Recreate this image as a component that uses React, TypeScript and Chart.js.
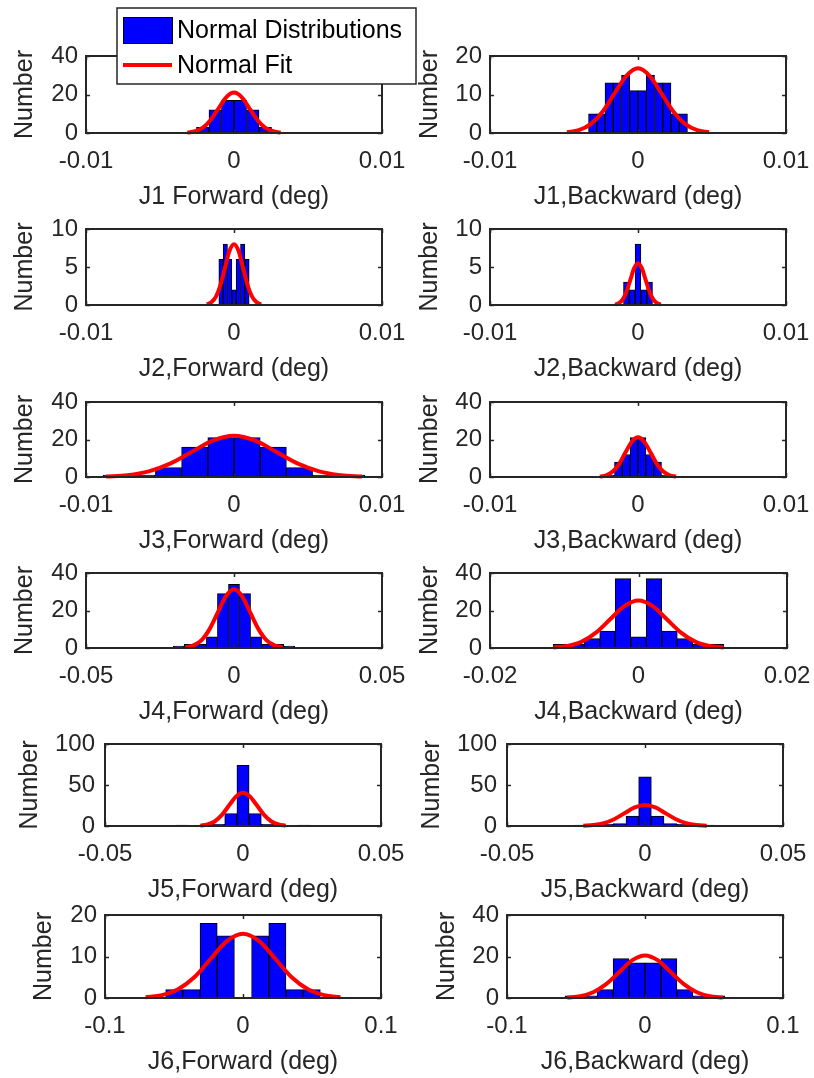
import React, { useEffect, useRef } from "react";
import { Chart, registerables } from "chart.js";

Chart.register(...registerables);

// ---------------- data ----------------
const X_TICKS_001 = [-0.01, 0, 0.01];
const X_LABELS_001 = ["-0.01", "0", "0.01"];
const X_TICKS_002 = [-0.02, 0, 0.02];
const X_LABELS_002 = ["-0.02", "0", "0.02"];
const X_TICKS_005 = [-0.05, 0, 0.05];
const X_LABELS_005 = ["-0.05", "0", "0.05"];
const X_TICKS_01 = [-0.1, 0, 0.1];
const X_LABELS_01 = ["-0.1", "0", "0.1"];

const Y_TICKS_10 = [0, 5, 10];
const Y_LABELS_10 = ["0", "5", "10"];
const Y_TICKS_20 = [0, 10, 20];
const Y_LABELS_20 = ["0", "10", "20"];
const Y_TICKS_40 = [0, 20, 40];
const Y_LABELS_40 = ["0", "20", "40"];
const Y_TICKS_100 = [0, 50, 100];
const Y_LABELS_100 = ["0", "50", "100"];

const AXIS_TITLES = [
  "J1 Forward (deg)", "J1,Backward (deg)",
  "J2,Forward (deg)", "J2,Backward (deg)",
  "J3,Forward (deg)", "J3,Backward (deg)",
  "J4,Forward (deg)", "J4,Backward (deg)",
  "J5,Forward (deg)", "J5,Backward (deg)",
  "J6,Forward (deg)", "J6,Backward (deg)",
];
const LEGEND_LABELS = ["Normal Distributions", "Normal Fit"];

// J1 Forward
const J1F_BIN_X = [-0.002113, -0.001268, -0.000423, 0.000423, 0.001268, 0.002113];
const J1F_COUNTS = [3, 12, 17, 17, 12, 3];
const J1F_FIT_X = [-0.00315, -0.00263, -0.0021, -0.00158, -0.00105, -0.00053, 0, 0.00053, 0.00105, 0.00158, 0.0021, 0.00263, 0.00315];
const J1F_FIT_Y = [0.2, 0.9, 2.8, 6.8, 12.7, 18.5, 21, 18.5, 12.7, 6.8, 2.8, 0.9, 0.2];

// J1 Backward
const J1B_BIN_X = [-0.003064, -0.002507, -0.00195, -0.001393, -0.000836, -0.000279, 0.000279, 0.000836, 0.001393, 0.00195, 0.002507, 0.003064];
const J1B_COUNTS = [5, 5, 13, 13, 15, 11, 11, 15, 13, 13, 5, 5];
const J1B_FIT_X = [-0.0048, -0.004, -0.0032, -0.0024, -0.0016, -0.0008, 0, 0.0008, 0.0016, 0.0024, 0.0032, 0.004, 0.0048];
const J1B_FIT_Y = [0.19, 0.74, 2.3, 5.5, 10.2, 14.8, 16.8, 14.8, 10.2, 5.5, 2.3, 0.74, 0.19];

// J2 Forward
const J2F_BIN_X = [-0.000879, -0.000586, -0.000293, 0, 0.000293, 0.000586, 0.000879];
const J2F_COUNTS = [6, 8, 6, 2, 6, 8, 6];
const J2F_FIT_X = [-0.00183, -0.00153, -0.00122, -0.00092, -0.00061, -0.00031, 0, 0.00031, 0.00061, 0.00092, 0.00122, 0.00153, 0.00183];
const J2F_FIT_Y = [0.09, 0.35, 1.1, 2.6, 4.9, 7.1, 8, 7.1, 4.9, 2.6, 1.1, 0.35, 0.09];

// J2 Backward
const J2B_BIN_X = [-0.000784, -0.000392, 0, 0.000392, 0.000784];
const J2B_COUNTS = [3, 2, 8, 2, 3];
const J2B_FIT_X = [-0.00154, -0.00129, -0.00103, -0.00077, -0.00051, -0.00026, 0, 0.00026, 0.00051, 0.00077, 0.00103, 0.00129, 0.00154];
const J2B_FIT_Y = [0.06, 0.24, 0.74, 1.79, 3.34, 4.85, 5.5, 4.85, 3.34, 1.79, 0.74, 0.24, 0.06];

// J3 Forward
const J3F_BIN_X = [-0.007965, -0.006195, -0.004425, -0.002655, -0.000885, 0.000885, 0.002655, 0.004425, 0.006195, 0.007965];
const J3F_COUNTS = [1, 1, 5, 16, 21, 21, 16, 5, 1, 1];
const J3F_FIT_X = [-0.00864, -0.0072, -0.00576, -0.00432, -0.00288, -0.00144, 0, 0.00144, 0.00288, 0.00432, 0.00576, 0.0072, 0.00864];
const J3F_FIT_Y = [0.24, 0.97, 3.0, 7.1, 13.3, 19.4, 22, 19.4, 13.3, 7.1, 3.0, 0.97, 0.24];

// J3 Backward
const J3B_BIN_X = [-0.001852, -0.001323, -0.000794, -0.000265, 0.000265, 0.000794, 0.001323, 0.001852];
const J3B_COUNTS = [1, 8, 12, 21, 21, 12, 8, 1];
const J3B_FIT_X = [-0.00257, -0.00214, -0.00171, -0.00128, -0.00086, -0.00043, 0, 0.00043, 0.00086, 0.00128, 0.00171, 0.00214, 0.00257];
const J3B_FIT_Y = [0.24, 0.93, 2.9, 6.9, 12.9, 18.7, 21.2, 18.7, 12.9, 6.9, 2.9, 0.93, 0.24];

// J4 Forward
const J4F_BIN_X = [-0.01865, -0.01492, -0.01119, -0.00746, -0.00373, 0, 0.00373, 0.00746, 0.01119, 0.01492, 0.01865];
const J4F_COUNTS = [1, 2, 2, 6, 29, 34, 29, 6, 2, 2, 1];
const J4F_FIT_X = [-0.01641, -0.01368, -0.01094, -0.00821, -0.00547, -0.00274, 0, 0.00274, 0.00547, 0.00821, 0.01094, 0.01368, 0.01641];
const J4F_FIT_Y = [0.35, 1.37, 4.2, 10.2, 19.0, 27.6, 31.3, 27.6, 19.0, 10.2, 4.2, 1.37, 0.35];

// J4 Backward
const J4B_BIN_X = [-0.01045, -0.00836, -0.00627, -0.00418, -0.00209, 0, 0.00209, 0.00418, 0.00627, 0.00836, 0.01045];
const J4B_COUNTS = [2, 2, 5, 9, 37, 6, 37, 9, 5, 2, 2];
const J4B_FIT_X = [-0.01146, -0.00955, -0.00764, -0.00573, -0.00382, -0.00191, 0, 0.00191, 0.00382, 0.00573, 0.00764, 0.00955, 0.01146];
const J4B_FIT_Y = [0.28, 1.11, 3.4, 8.2, 15.3, 22.3, 25.3, 22.3, 15.3, 8.2, 3.4, 1.11, 0.28];

// J5 Forward
const J5F_BIN_X = [-0.0221, -0.01768, -0.01326, -0.00884, -0.00442, 0, 0.00442, 0.00884, 0.01326, 0.01768, 0.0221];
const J5F_COUNTS = [1, 0, 1, 2, 15, 74, 15, 2, 1, 0, 1];
const J5F_FIT_X = [-0.01545, -0.01288, -0.0103, -0.00773, -0.00515, -0.00258, 0, 0.00258, 0.00515, 0.00773, 0.0103, 0.01288, 0.01545];
const J5F_FIT_Y = [0.45, 1.78, 5.5, 13.2, 24.6, 35.7, 40.5, 35.7, 24.6, 13.2, 5.5, 1.78, 0.45];

// J5 Backward
const J5B_BIN_X = [-0.02295, -0.01836, -0.01377, -0.00918, -0.00459, 0, 0.00459, 0.00918, 0.01377, 0.01836, 0.02295];
const J5B_COUNTS = [1, 0, 2, 3, 12, 60, 12, 3, 2, 0, 1];
const J5B_FIT_X = [-0.02235, -0.01863, -0.0149, -0.01118, -0.00745, -0.00373, 0, 0.00373, 0.00745, 0.01118, 0.0149, 0.01863, 0.02235];
const J5B_FIT_Y = [0.28, 1.12, 3.5, 8.3, 15.5, 22.6, 25.6, 22.6, 15.5, 8.3, 3.5, 1.12, 0.28];

// J6 Forward
const J6F_BIN_X = [-0.0498, -0.03735, -0.0249, -0.01245, 0, 0.01245, 0.0249, 0.03735, 0.0498];
const J6F_COUNTS = [2, 2, 18, 15, 0, 15, 18, 2, 2];
const J6F_FIT_X = [-0.07059, -0.05883, -0.04706, -0.0353, -0.02353, -0.01177, 0, 0.01177, 0.02353, 0.0353, 0.04706, 0.05883, 0.07059];
const J6F_FIT_Y = [0.17, 0.68, 2.1, 5.0, 9.4, 13.7, 15.5, 13.7, 9.4, 5.0, 2.1, 0.68, 0.17];

// J6 Backward
const J6B_BIN_X = [-0.05202, -0.04046, -0.0289, -0.01734, -0.00578, 0.00578, 0.01734, 0.0289, 0.04046, 0.05202];
const J6B_COUNTS = [1, 1, 4, 19, 17, 17, 19, 4, 1, 1];
const J6B_FIT_X = [-0.05634, -0.04695, -0.03756, -0.02817, -0.01878, -0.00939, 0, 0.00939, 0.01878, 0.02817, 0.03756, 0.04695, 0.05634];
const J6B_FIT_Y = [0.23, 0.9, 2.8, 6.7, 12.4, 18.1, 20.5, 18.1, 12.4, 6.7, 2.8, 0.9, 0.23];

// ---------------- panel definitions ----------------
type Spec = {
  title: string;
  binX: number[];
  counts: number[];
  fitX: number[];
  fitY: number[];
  xTicks: number[];
  xLabels: string[];
  yTicks: number[];
  yLabels: string[];
  legend?: boolean;
};

const SPECS: Spec[] = [
  { title: AXIS_TITLES[0], binX: J1F_BIN_X, counts: J1F_COUNTS, fitX: J1F_FIT_X, fitY: J1F_FIT_Y, xTicks: X_TICKS_001, xLabels: X_LABELS_001, yTicks: Y_TICKS_40, yLabels: Y_LABELS_40, legend: true },
  { title: AXIS_TITLES[1], binX: J1B_BIN_X, counts: J1B_COUNTS, fitX: J1B_FIT_X, fitY: J1B_FIT_Y, xTicks: X_TICKS_001, xLabels: X_LABELS_001, yTicks: Y_TICKS_20, yLabels: Y_LABELS_20 },
  { title: AXIS_TITLES[2], binX: J2F_BIN_X, counts: J2F_COUNTS, fitX: J2F_FIT_X, fitY: J2F_FIT_Y, xTicks: X_TICKS_001, xLabels: X_LABELS_001, yTicks: Y_TICKS_10, yLabels: Y_LABELS_10 },
  { title: AXIS_TITLES[3], binX: J2B_BIN_X, counts: J2B_COUNTS, fitX: J2B_FIT_X, fitY: J2B_FIT_Y, xTicks: X_TICKS_001, xLabels: X_LABELS_001, yTicks: Y_TICKS_10, yLabels: Y_LABELS_10 },
  { title: AXIS_TITLES[4], binX: J3F_BIN_X, counts: J3F_COUNTS, fitX: J3F_FIT_X, fitY: J3F_FIT_Y, xTicks: X_TICKS_001, xLabels: X_LABELS_001, yTicks: Y_TICKS_40, yLabels: Y_LABELS_40 },
  { title: AXIS_TITLES[5], binX: J3B_BIN_X, counts: J3B_COUNTS, fitX: J3B_FIT_X, fitY: J3B_FIT_Y, xTicks: X_TICKS_001, xLabels: X_LABELS_001, yTicks: Y_TICKS_40, yLabels: Y_LABELS_40 },
  { title: AXIS_TITLES[6], binX: J4F_BIN_X, counts: J4F_COUNTS, fitX: J4F_FIT_X, fitY: J4F_FIT_Y, xTicks: X_TICKS_005, xLabels: X_LABELS_005, yTicks: Y_TICKS_40, yLabels: Y_LABELS_40 },
  { title: AXIS_TITLES[7], binX: J4B_BIN_X, counts: J4B_COUNTS, fitX: J4B_FIT_X, fitY: J4B_FIT_Y, xTicks: X_TICKS_002, xLabels: X_LABELS_002, yTicks: Y_TICKS_40, yLabels: Y_LABELS_40 },
  { title: AXIS_TITLES[8], binX: J5F_BIN_X, counts: J5F_COUNTS, fitX: J5F_FIT_X, fitY: J5F_FIT_Y, xTicks: X_TICKS_005, xLabels: X_LABELS_005, yTicks: Y_TICKS_100, yLabels: Y_LABELS_100 },
  { title: AXIS_TITLES[9], binX: J5B_BIN_X, counts: J5B_COUNTS, fitX: J5B_FIT_X, fitY: J5B_FIT_Y, xTicks: X_TICKS_005, xLabels: X_LABELS_005, yTicks: Y_TICKS_100, yLabels: Y_LABELS_100 },
  { title: AXIS_TITLES[10], binX: J6F_BIN_X, counts: J6F_COUNTS, fitX: J6F_FIT_X, fitY: J6F_FIT_Y, xTicks: X_TICKS_01, xLabels: X_LABELS_01, yTicks: Y_TICKS_20, yLabels: Y_LABELS_20 },
  { title: AXIS_TITLES[11], binX: J6B_BIN_X, counts: J6B_COUNTS, fitX: J6B_FIT_X, fitY: J6B_FIT_Y, xTicks: X_TICKS_01, xLabels: X_LABELS_01, yTicks: Y_TICKS_40, yLabels: Y_LABELS_40 },
];

// plot boxes in page pixels: left, top, right, bottom; y-title gap; y-label padding
const BOXES = [
  { l: 86, t: 56, r: 382, b: 133, yGap: 61, yPad: 8 },
  { l: 490, t: 56, r: 786, b: 133, yGap: 60, yPad: 8 },
  { l: 86, t: 229, r: 382, b: 305, yGap: 61, yPad: 8 },
  { l: 490, t: 229, r: 786, b: 305, yGap: 60, yPad: 8 },
  { l: 86, t: 402, r: 382, b: 477, yGap: 61, yPad: 8 },
  { l: 490, t: 402, r: 786, b: 477, yGap: 60, yPad: 8 },
  { l: 86, t: 573, r: 382, b: 648, yGap: 61, yPad: 8 },
  { l: 490, t: 573, r: 787, b: 648, yGap: 60, yPad: 8 },
  { l: 105, t: 744, r: 381, b: 826, yGap: 75, yPad: 10 },
  { l: 507, t: 744, r: 783, b: 826, yGap: 75, yPad: 10 },
  { l: 105, t: 915, r: 381, b: 998, yGap: 61, yPad: 8 },
  { l: 507, t: 915, r: 783, b: 998, yGap: 60, yPad: 8 },
];

const FONT = '"Liberation Sans", Arial, Helvetica, sans-serif';
const TICK_SIZE = 24;
const TITLE_SIZE = 25;
const AXIS_COLOR = "#262626";
const BAR_COLOR = "#0000FF";
const FIT_COLOR = "#FF0000";
const LM = 100;
const RM = 40;
const BM = 90;
const X_TITLE_GAP = 64;
const X_LABEL_PAD = 14;
const TICK_LEN = 4;

const framePlugin = {
  id: "matlabFrame",
  afterDatasetsDraw(chart: any) {
    const { ctx, chartArea } = chart;
    const { left, top, right, bottom } = chartArea;
    const xs = chart.scales.x;
    const ys = chart.scales.y;
    ctx.save();
    ctx.strokeStyle = AXIS_COLOR;
    ctx.lineWidth = 1.5;
    ctx.beginPath();
    xs.ticks.forEach((t: any) => {
      const p = Math.round(xs.getPixelForValue(t.value)) + 0.5;
      ctx.moveTo(p, bottom);
      ctx.lineTo(p, bottom - TICK_LEN);
      ctx.moveTo(p, top);
      ctx.lineTo(p, top + TICK_LEN);
    });
    ys.ticks.forEach((t: any) => {
      const p = Math.round(ys.getPixelForValue(t.value)) + 0.5;
      ctx.moveTo(left, p);
      ctx.lineTo(left + TICK_LEN, p);
      ctx.moveTo(right, p);
      ctx.lineTo(right - TICK_LEN, p);
    });
    ctx.stroke();
    ctx.lineWidth = 2;
    ctx.strokeRect(left, top, right - left, bottom - top);
    ctx.restore();
  },
};

function makeLegendPlugin(originX: number, originY: number) {
  return {
    id: "pageLegend",
    afterDraw(chart: any) {
      const { ctx } = chart;
      const ds = chart.data.datasets;
      const bar = ds.find((d: any) => d.type === "bar");
      const line = ds.find((d: any) => d.type === "line");
      const X = (v: number) => v - originX;
      const Y = (v: number) => v - originY;
      ctx.save();
      ctx.fillStyle = "#FFFFFF";
      ctx.fillRect(X(117), Y(8), 299, 76);
      ctx.strokeStyle = AXIS_COLOR;
      ctx.lineWidth = 1.5;
      ctx.strokeRect(X(117), Y(8), 299, 76);
      // bar patch
      ctx.fillStyle = bar.backgroundColor;
      ctx.fillRect(X(123), Y(17), 49, 26);
      ctx.strokeStyle = "#000000";
      ctx.lineWidth = 1;
      ctx.strokeRect(X(123) + 0.5, Y(17) + 0.5, 49, 26);
      // line sample
      ctx.strokeStyle = line.borderColor;
      ctx.lineWidth = 4;
      ctx.beginPath();
      ctx.moveTo(X(123), Y(65));
      ctx.lineTo(X(172), Y(65));
      ctx.stroke();
      ctx.fillStyle = "#000000";
      ctx.font = `${TITLE_SIZE}px ${FONT}`;
      ctx.textBaseline = "middle";
      ctx.textAlign = "left";
      ctx.fillText(bar.label, X(177), Y(31.5));
      ctx.fillText(line.label, X(177), Y(66.5));
      ctx.restore();
    },
  };
}

function Panel({ spec, box }: { spec: Spec; box: any }) {
  const ref = useRef<HTMLCanvasElement>(null);
  const TM = spec.legend ? 56 : 30;
  const w = LM + (box.r - box.l) + RM;
  const h = TM + (box.b - box.t) + BM;
  const left = box.l - LM;
  const top = box.t - TM;

  useEffect(() => {
    if (!ref.current) return;
    const half = (TITLE_SIZE * 1.2) / 2;
    const W = box.yGap + half;
    const H = X_TITLE_GAP + half;
    const plugins: any[] = [framePlugin];
    if (spec.legend) plugins.push(makeLegendPlugin(left, top));
    const chart = new Chart(ref.current, {
      type: "bar",
      data: {
        datasets: [
          {
            type: "line",
            label: LEGEND_LABELS[1],
            data: spec.fitX.map((x, i) => ({ x, y: spec.fitY[i] })),
            borderColor: FIT_COLOR,
            backgroundColor: FIT_COLOR,
            borderWidth: 4,
            pointRadius: 0,
            fill: false,
            cubicInterpolationMode: "monotone",
            clip: false,
            order: 1,
          } as any,
          {
            type: "bar",
            label: LEGEND_LABELS[0],
            data: spec.binX.map((x, i) => ({ x, y: spec.counts[i] })),
            backgroundColor: BAR_COLOR,
            borderColor: "#000000",
            borderWidth: 1,
            borderSkipped: false,
            barPercentage: 1,
            categoryPercentage: 1,
            order: 2,
          } as any,
        ],
      },
      options: {
        responsive: false,
        animation: false,
        devicePixelRatio: 1,
        layout: { padding: { left: LM - W, right: RM, top: TM, bottom: BM - H } },
        plugins: { legend: { display: false }, tooltip: { enabled: false } },
        scales: {
          x: {
            type: "linear",
            min: spec.xTicks[0],
            max: spec.xTicks[spec.xTicks.length - 1],
            offset: false,
            grid: { display: false, drawTicks: false, offset: false },
            border: { display: false },
            afterBuildTicks: (s: any) => {
              s.ticks = spec.xTicks.map((v) => ({ value: v }));
            },
            afterFit: (s: any) => {
              s.height = H;
            },
            ticks: {
              autoSkip: false,
              maxRotation: 0,
              minRotation: 0,
              padding: X_LABEL_PAD,
              color: AXIS_COLOR,
              font: { family: FONT, size: TICK_SIZE },
              callback: (_v: any, i: number) => spec.xLabels[i],
            },
            title: {
              display: true,
              text: spec.title,
              color: AXIS_COLOR,
              font: { family: FONT, size: TITLE_SIZE },
              padding: 0,
            },
          } as any,
          y: {
            type: "linear",
            min: spec.yTicks[0],
            max: spec.yTicks[spec.yTicks.length - 1],
            grid: { display: false, drawTicks: false },
            border: { display: false },
            afterBuildTicks: (s: any) => {
              s.ticks = spec.yTicks.map((v) => ({ value: v }));
            },
            afterFit: (s: any) => {
              s.width = W;
            },
            ticks: {
              autoSkip: false,
              padding: box.yPad,
              color: AXIS_COLOR,
              font: { family: FONT, size: TICK_SIZE },
              callback: (_v: any, i: number) => spec.yLabels[i],
            },
            title: {
              display: true,
              text: "Number",
              color: AXIS_COLOR,
              font: { family: FONT, size: TITLE_SIZE },
              padding: 0,
            },
          } as any,
        },
      },
      plugins,
    });
    return () => chart.destroy();
  }, []);

  return (
    <canvas
      ref={ref}
      width={w}
      height={h}
      style={{ position: "absolute", left, top, width: w, height: h }}
    />
  );
}

export default function App() {
  return (
    <div
      style={{
        position: "absolute",
        left: 0,
        top: 0,
        width: 814,
        height: 1078,
        overflow: "hidden",
        background: "#FFFFFF",
      }}
    >
      {SPECS.map((s, i) => (
        <Panel key={i} spec={s} box={BOXES[i]} />
      ))}
    </div>
  );
}
